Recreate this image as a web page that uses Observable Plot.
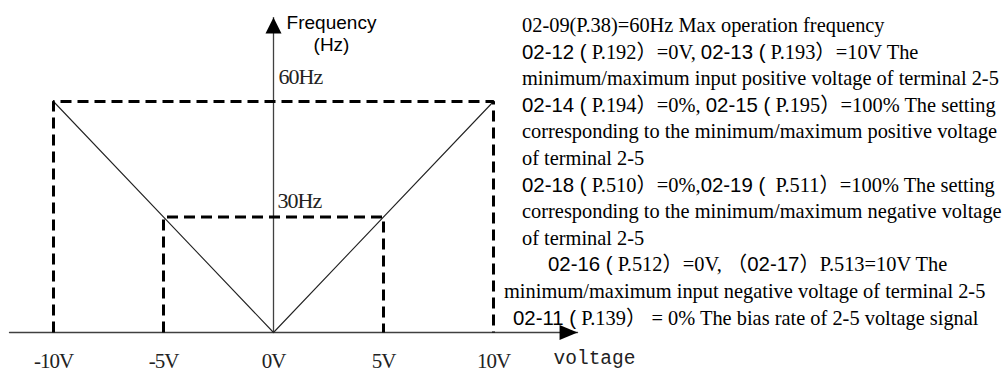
<!DOCTYPE html>
<html>
<head>
<meta charset="utf-8">
<script src="https://cdn.jsdelivr.net/npm/d3@7"></script>
<script src="https://cdn.jsdelivr.net/npm/@observablehq/plot@0.6"></script>
<style>
  html, body { margin: 0; padding: 0; background: #fff; }
  #wrap { position: relative; width: 1005px; height: 374px; overflow: hidden; }
  #note {
    position: absolute; left: 522px; top: 12px;
    font-family: "Liberation Serif", "Noto Sans CJK SC", serif;
    font-size: 20.4px; line-height: 26.6px; color: #000; white-space: nowrap;
  }
  #note .s { font-family: "Liberation Sans", "Noto Sans CJK SC", sans-serif; }
</style>
</head>
<body>
<div id="wrap"></div>
<script>
// ---- data ----
const voltTicks = [-10, -5, 0, 5, 10];
const voltLabels = ["-10V", "-5V", "0V", "5V", "10V"];
const freqTicks = [60, 30];
const freqLabels = ["60Hz", "30Hz"];
const outerV = [-10, -10, 10, 10];
const outerF = [0, 60, 60, 0];
const innerV = [-5, -5, 5, 5];
const innerF = [0, 30, 30, 0];
const curveV = [-10, 0, 10];
const curveF = [60, 0, 60];
const xAxisSpan = [-12, 13.82];
const yAxisSpan = [0, 81.8];
const yTitle = "Frequency\n(Hz)";
const xTitle = "voltage";

const pts = (xs, ys) => xs.map((x, i) => ({x, y: ys[i]}));

const arrowRight = {draw(ctx) { ctx.moveTo(0, 0); ctx.lineTo(-18, -7.5); ctx.lineTo(-18, 7.5); ctx.closePath(); }};
const arrowUp = {draw(ctx) { ctx.moveTo(0, 0); ctx.lineTo(-8, 16); ctx.lineTo(8, 16); ctx.closePath(); }};

const dashed = {x: "x", y: "y", stroke: "#000", strokeWidth: 3, strokeDasharray: "11,6", strokeLinecap: "butt", strokeLinejoin: "miter"};

const chart = Plot.plot({
  width: 1005,
  height: 374,
  margin: 0,
  style: {background: "#fff"},
  x: {domain: [-10, 10], range: [53, 493], axis: null},
  y: {domain: [0, 60], range: [332, 101], axis: null},
  marks: [
    Plot.line(pts(xAxisSpan, [0, 0]), {x: "x", y: "y", stroke: "#404040", strokeWidth: 1.3}),
    Plot.line(pts([0, 0], yAxisSpan), {x: "x", y: "y", stroke: "#404040", strokeWidth: 1.3}),
    Plot.line(pts(curveV, curveF), {x: "x", y: "y", stroke: "#222", strokeWidth: 1.1}),
    Plot.line(pts(outerV, outerF), dashed),
    Plot.line(pts(innerV, innerF), dashed),
    Plot.dot([{x: xAxisSpan[1], y: 0}], {x: "x", y: "y", symbol: arrowRight, fill: "#000", stroke: "none", r: 5}),
    Plot.dot([{x: 0, y: yAxisSpan[1]}], {x: "x", y: "y", symbol: arrowUp, fill: "#000", stroke: "none", r: 5}),
    Plot.text(voltTicks, {x: d => d, y: 0, text: (d, i) => voltLabels[i], dy: 29,
      fontFamily: "Liberation Serif", fontSize: 21, fill: "#222"}),
    Plot.text([freqTicks[0]], {x: 0, y: d => d, text: () => freqLabels[0], textAnchor: "start", dx: 5, dy: -25,
      fontFamily: "Liberation Serif", fontSize: 22, fill: "#222"}),
    Plot.text([freqTicks[1]], {x: 0, y: d => d, text: () => freqLabels[1], textAnchor: "start", dx: 4, dy: -16,
      fontFamily: "Liberation Serif", fontSize: 22, fill: "#222"}),
    Plot.text([yTitle], {x: 0, y: yAxisSpan[1], text: d => d, dx: 58, dy: -4.5, lineAnchor: "top", lineHeight: 1.16,
      fontFamily: "Liberation Sans", fontSize: 19, fill: "#000"}),
    Plot.text([xTitle], {x: xAxisSpan[1], y: 0, text: d => d, textAnchor: "start", dx: -24, dy: 25,
      fontFamily: "Liberation Mono", fontSize: 19.5, fill: "#222"})
  ]
});

// typographic tweak to mimic the narrow tick font
d3.select(chart).selectAll("text")
  .filter(function() { return voltLabels.includes(this.textContent) || freqLabels.includes(this.textContent); })
  .style("letter-spacing", "-1px");

const wrap = document.getElementById("wrap");
wrap.appendChild(chart);

const note = document.createElement("div");
note.id = "note";
note.innerHTML = [
  `<div>02-09(P.38)=60Hz Max operation frequency</div>`,
  `<div><span class="s">02-12 (</span> P.192）=0V, <span class="s">02-13 (</span> P.193）=10V The</div>`,
  `<div>minimum/maximum input positive voltage of terminal 2-5</div>`,
  `<div><span class="s">02-14 (</span> P.194）=0%, <span class="s">02-15 (</span> P.195）=100% The setting</div>`,
  `<div>corresponding to the minimum/maximum positive voltage</div>`,
  `<div>of terminal 2-5</div>`,
  `<div><span class="s">02-18 (</span> P.510）=0%,<span class="s">02-19 (</span>&nbsp; P.511）=100% The setting</div>`,
  `<div>corresponding to the minimum/maximum negative voltage</div>`,
  `<div>of terminal 2-5</div>`,
  `<div style="margin-left:26px"><span class="s">02-16 (</span> P.512）=0V, （<span class="s">02-17</span>）P.513=10V The</div>`,
  `<div style="margin-left:-18px">minimum/maximum input negative voltage of terminal 2-5</div>`,
  `<div style="margin-left:-9px"><span class="s">02-11 (</span> P.139） = 0% The bias rate of 2-5 voltage signal</div>`
].join("");
wrap.appendChild(note);
</script>
</body>
</html>
